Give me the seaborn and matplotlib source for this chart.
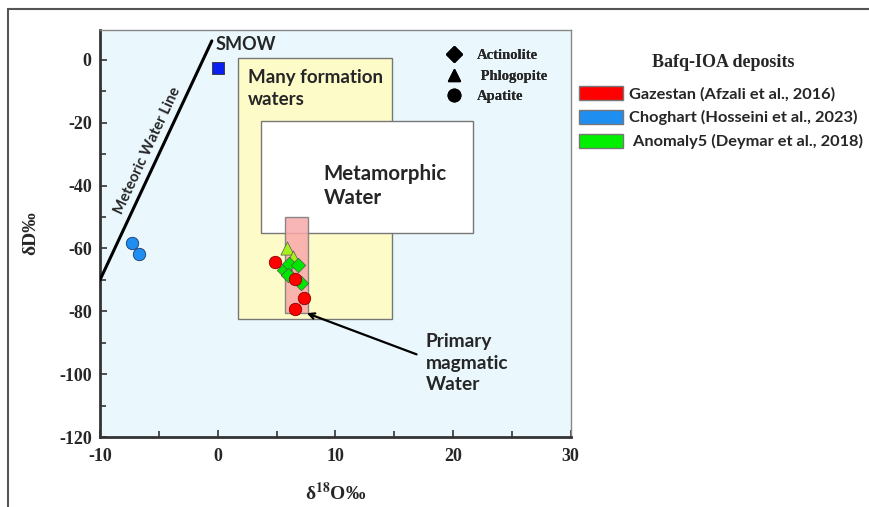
import pandas as pd
import seaborn as sns
import matplotlib.pyplot as plt
from matplotlib.patches import Rectangle, Patch
from matplotlib.lines import Line2D

# data
gaz_apatite_x = [4.9, 6.6, 7.3, 6.6]
gaz_apatite_y = [-64.4, -69.8, -75.8, -79.3]
cho_apatite_x = [-7.3, -6.7]
cho_apatite_y = [-58.3, -61.9]
ano_phlog_x = [5.9, 6.4, 6.0]
ano_phlog_y = [-59.9, -62.8, -66.4]
ano_actin_x = [5.6, 6.1, 6.8, 6.0, 7.1]
ano_actin_y = [-66.8, -64.9, -65.2, -68.6, -71.0]
smow_x = [0.0]
smow_y = [-2.5]
mwl_x = [-10, -0.5]
mwl_y = [-70, 6]

deposits = ["Gazestan (Afzali et al., 2016)", "Choghart (Hosseini et al., 2023)",
            " Anomaly5 (Deymar et al., 2018)"]
minerals = ["Actinolite", " Phlogopite", "Apatite"]

sns.set_style("ticks")
plt.rcParams["font.family"] = ["Lato", "DejaVu Sans"]
plt.rcParams["mathtext.fontset"] = "stix"
plt.rcParams["axes.unicode_minus"] = False
serif = "Liberation Serif"

fig = plt.figure(figsize=(8.7, 5.07), dpi=100)
ax = fig.add_axes([0.115, 0.138, 0.541, 0.803])
ax.set_facecolor("#eaf8fe")

# outer frame
fig.add_artist(Line2D([0.009, 0.009], [0, 0.982], color="#555555", lw=1.5, transform=fig.transFigure))
fig.add_artist(Line2D([0.009, 1.0], [0.982, 0.982], color="#555555", lw=1.5, transform=fig.transFigure))

# fields
ax.add_patch(Rectangle((1.7, -82.5), 13.1, 83.1, facecolor="#fdfbc8", edgecolor="#777777", lw=1, zorder=1))
ax.add_patch(Rectangle((3.7, -55.0), 18.0, 35.6, facecolor="white", edgecolor="#777777", lw=1, zorder=2))
ax.add_patch(Rectangle((5.7, -80.7), 2.0, 30.6, facecolor="#f9a9a9", edgecolor="#777777", lw=1,
                       alpha=0.85, zorder=3))

sns.lineplot(x=mwl_x, y=mwl_y, color="black", lw=2.2, ax=ax, zorder=4)

sns.scatterplot(x=smow_x, y=smow_y, marker="s", s=80, color="#0a1ff0", edgecolor="#333333",
                linewidth=0.6, ax=ax, zorder=5)
sns.scatterplot(x=ano_phlog_x, y=ano_phlog_y, marker="^", s=90, color="#a6f01e", edgecolor="#555555",
                linewidth=0.5, ax=ax, zorder=5)
sns.scatterplot(x=ano_actin_x, y=ano_actin_y, marker="D", s=55, color="#00e600", edgecolor="#555555",
                linewidth=0.5, ax=ax, zorder=6)
sns.scatterplot(x=gaz_apatite_x, y=gaz_apatite_y, marker="o", s=80, color="#ff0000", edgecolor="#8b0000",
                linewidth=0.6, ax=ax, zorder=7)
sns.scatterplot(x=cho_apatite_x, y=cho_apatite_y, marker="o", s=80, color="#1e8ef0", edgecolor="#1a3a6a",
                linewidth=0.6, ax=ax, zorder=7)

# text labels
ax.text(-0.2, 4.8, "SMOW", fontsize=13, fontweight="bold", va="center", ha="left", zorder=8)
ax.text(-6.0, -29, "Meteoric Water Line", fontsize=10.7, fontweight="bold", rotation=65,
        ha="center", va="center", zorder=8)
ax.text(2.6, -3.0, "Many formation\nwaters", fontsize=13.5, fontweight="bold", va="top", ha="left",
        linespacing=1.35, zorder=8)
ax.text(9.0, -40, "Metamorphic\nWater", fontsize=14.8, fontweight="bold", va="center", ha="left",
        linespacing=1.25, zorder=8)
ax.text(17.7, -96.5, "Primary\nmagmatic\nWater", fontsize=13.8, fontweight="bold", va="center", ha="left",
        linespacing=1.32, zorder=8)
ax.annotate("", xy=(7.57, -80.6), xytext=(16.9, -93.7),
            arrowprops=dict(arrowstyle="->", color="black", lw=1.6, shrinkA=0, shrinkB=0), zorder=8)

ax.set_xlim(-10, 30)
ax.set_ylim(-120, 9.5)
ax.set_xticks([-10, 0, 10, 20, 30])
ax.set_xticks([-5, 5, 15, 25], minor=True)
ax.set_yticks([0, -20, -40, -60, -80, -100, -120])
ax.set_yticks([-10, -30, -50, -70, -90, -110], minor=True)
ax.tick_params(direction="in", which="both", color="#333333")
ax.tick_params(which="major", length=5, width=1.2)
ax.tick_params(which="minor", length=4, width=1.2)
ax.tick_params(axis="x", pad=8)
ax.tick_params(axis="y", pad=6)
for lab in ax.get_xticklabels() + ax.get_yticklabels():
    lab.set_fontfamily(serif)
    lab.set_fontweight("bold")
    lab.set_fontsize(13)

for side in ["left", "bottom"]:
    ax.spines[side].set_linewidth(2)
    ax.spines[side].set_color("#333333")
for side in ["top", "right"]:
    ax.spines[side].set_linewidth(1)
    ax.spines[side].set_color("#888888")

ax.set_xlabel(r"δ$^{\mathbf{18}}$O‰", fontsize=14, fontweight="bold", family=serif, labelpad=12)
ax.set_ylabel("δD‰", fontsize=14, fontweight="bold", family=serif, labelpad=14)

# mineral legend
m_handles = [Line2D([], [], marker=m, color="black", ls="none", markersize=ms)
             for m, ms in zip(["D", "^", "o"], [8, 9, 9])]
leg1 = ax.legend(m_handles, minerals, loc="upper left", bbox_to_anchor=(0.693, 0.985), frameon=False,
                 handletextpad=0.6, labelspacing=0.5, prop={"family": serif, "weight": "bold", "size": 10.5})
ax.add_artist(leg1)

# deposit legend
fig.text(0.831, 0.876, "Bafq-IOA deposits", family=serif, fontweight="bold", fontsize=13,
         ha="center", va="center")
d_handles = [Patch(facecolor=c, edgecolor="#777777") for c in ["#ff0000", "#1e8ef0", "#00f000"]]
fig.legend(d_handles, deposits, loc="upper left", bbox_to_anchor=(0.649, 0.86), frameon=False,
           handlelength=2.65, handleheight=0.95, handletextpad=0.4,
           labelspacing=0.5, prop={"weight": "bold", "size": 11.8})

fig.savefig("out.png", dpi=100)
